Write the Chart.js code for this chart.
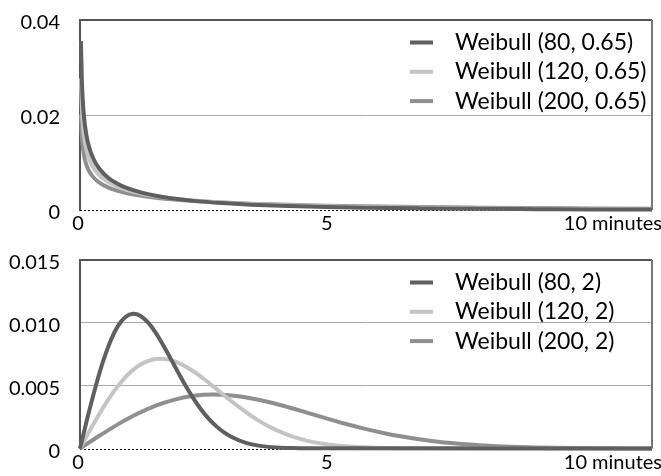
<!DOCTYPE html>
<html><head><meta charset="utf-8">
<script src="https://cdn.jsdelivr.net/npm/chart.js@4"></script>
<style>
html,body{margin:0;padding:0;background:#fff;}
#wrap{position:relative;width:661px;height:476px;overflow:hidden;}
.c{position:absolute;left:0;width:661px;height:238px;}
</style></head><body>
<div id="wrap">
<div class="c" style="top:0"><canvas id="topChart"></canvas></div>
<div class="c" style="top:238px"><canvas id="botChart"></canvas></div>
</div>
<script>
// ---------- data (x in minutes, y = density) ----------
const xTickValues = [0, 5, 10];
const xTickLabels = ['0', '5', '10 minutes'];

const labelsTop = ['Weibull (80, 0.65)', 'Weibull (120, 0.65)', 'Weibull (200, 0.65)'];
const labelsBottom = ['Weibull (80, 2)', 'Weibull (120, 2)', 'Weibull (200, 2)'];

// top panel (shape 0.65), common x
const minutesTop = [0.019, 0.038, 0.076, 0.133, 0.190, 0.286, 0.381, 0.571, 0.762, 0.952, 1.238, 1.524, 1.905, 2.286, 2.857, 3.429, 4.190, 4.952, 5.714, 6.857, 8.000, 9.143, 10.286, 11.5];
const w80_065  = [0.03555, 0.02698, 0.02010, 0.01552, 0.01299, 0.01042, 0.00879, 0.00675, 0.00548, 0.00459, 0.00365, 0.00299, 0.00237, 0.00192, 0.00145, 0.00112, 0.00083, 0.00063, 0.00048, 0.00034, 0.00024, 0.00018, 0.00013, 0.00010];
const w120_065 = [0.02768, 0.02117, 0.01596, 0.01251, 0.01060, 0.00866, 0.00742, 0.00586, 0.00488, 0.00418, 0.00343, 0.00290, 0.00238, 0.00199, 0.00158, 0.00128, 0.00100, 0.00079, 0.00064, 0.00048, 0.00037, 0.00028, 0.00022, 0.00017];
const w200_065 = [0.02011, 0.01549, 0.01181, 0.00938, 0.00804, 0.00668, 0.00582, 0.00472, 0.00402, 0.00352, 0.00298, 0.00258, 0.00219, 0.00190, 0.00157, 0.00133, 0.00109, 0.00091, 0.00077, 0.00061, 0.00050, 0.00041, 0.00034, 0.00028];

// bottom panel (shape 2)
const minutes80_2 = [0, 0.152, 0.305, 0.457, 0.610, 0.762, 0.914, 1.067, 1.219, 1.371, 1.524, 1.676, 1.829, 1.981, 2.133, 2.286, 2.438, 2.590, 2.743, 2.895, 3.048, 3.352, 3.657, 3.962, 4.267, 4.571, 11.5];
const w80_2 = [0, 0.00248, 0.00480, 0.00685, 0.00852, 0.00974, 0.01047, 0.01072, 0.01055, 0.01001, 0.00920, 0.00820, 0.00711, 0.00600, 0.00493, 0.00395, 0.00309, 0.00236, 0.00176, 0.00128, 0.00092, 0.00043, 0.00019, 0.00008, 0.00003, 0.00001, 0];
const minutes120_2 = [0, 0.229, 0.457, 0.686, 0.914, 1.143, 1.371, 1.600, 1.829, 2.057, 2.286, 2.514, 2.743, 2.971, 3.200, 3.429, 3.657, 3.886, 4.114, 4.343, 4.571, 5.029, 5.486, 5.943, 6.400, 6.857, 11.5];
const w120_2 = [0, 0.00165, 0.00320, 0.00457, 0.00568, 0.00649, 0.00698, 0.00715, 0.00703, 0.00667, 0.00613, 0.00547, 0.00474, 0.00400, 0.00329, 0.00264, 0.00206, 0.00158, 0.00118, 0.00086, 0.00061, 0.00029, 0.00013, 0.00005, 0.00002, 0.00001, 0];
const minutes200_2 = [0, 0.381, 0.762, 1.143, 1.524, 1.905, 2.286, 2.667, 3.048, 3.429, 3.810, 4.190, 4.571, 4.952, 5.333, 5.714, 6.095, 6.476, 6.857, 7.238, 7.619, 8.381, 9.143, 9.905, 10.667, 11.429, 11.5];
const w200_2 = [0, 0.00099, 0.00192, 0.00274, 0.00341, 0.00389, 0.00419, 0.00429, 0.00422, 0.00400, 0.00368, 0.00328, 0.00284, 0.00240, 0.00197, 0.00158, 0.00124, 0.00095, 0.00071, 0.00051, 0.00037, 0.00017, 0.00008, 0.00003, 0.00001, 0.000004, 0];

// ---------- styling ----------
const COLORS = ['#5f5f5f', '#c4c4c4', '#8f8f8f'];
const FONT = 'Lato, "DejaVu Sans", sans-serif';
const X_MAX = 11.5;

function pts(xs, ys) { return xs.map((x, i) => ({x: x, y: ys[i]})); }

function ds(label, data, i) {
  return {
    label: label, data: data, borderColor: COLORS[i], backgroundColor: COLORS[i],
    borderWidth: 4, pointRadius: 0, fill: false,
    cubicInterpolationMode: 'monotone', clip: {left: 4, top: 4, right: 0, bottom: 5}
  };
}

const decorPlugin = {
  id: 'decor',
  beforeDatasetsDraw(chart) {
    const {ctx, chartArea: a} = chart;
    ctx.save();
    ctx.strokeStyle = '#000';
    ctx.lineWidth = 1;
    ctx.setLineDash([2, 2]);
    ctx.beginPath();
    ctx.moveTo(a.left, Math.round(a.bottom) + 0.5);
    ctx.lineTo(a.right, Math.round(a.bottom) + 0.5);
    ctx.stroke();
    ctx.setLineDash([]);
    ctx.strokeStyle = '#777';
    ctx.lineWidth = 2;
    ctx.beginPath();
    ctx.moveTo(a.right, a.top);
    ctx.lineTo(a.right, a.bottom);
    ctx.stroke();
    ctx.restore();
  },
  afterDraw(chart) {
    const {ctx, chartArea: a} = chart;
    const xs = chart.scales.x;
    ctx.save();
    ctx.fillStyle = '#000';
    ctx.font = '20px ' + FONT;
    ctx.textBaseline = 'middle';
    xTickValues.forEach((v, i) => {
      const px = xs.getPixelForValue(v) - 2;
      const lab = xTickLabels[i];
      const w = ctx.measureText(String(v)).width;
      ctx.textAlign = 'left';
      ctx.fillText(lab, px - w / 2, a.bottom + 14);
    });
    // legend
    const labels = chart.options.plugins.decor.labels;
    ctx.font = '23px ' + FONT;
    labels.forEach((lab, i) => {
      const y = a.top + 22.5 + i * 29.3;
      ctx.strokeStyle = COLORS[i];
      ctx.lineWidth = 4;
      ctx.beginPath();
      ctx.moveTo(410, y);
      ctx.lineTo(433, y);
      ctx.stroke();
      ctx.fillText(lab, 455, y);
    });
    ctx.restore();
  }
};

function makeChart(id, datasets, yMax, yStep, digits, labels, wantTop, wantBottom) {
  let xh = 238 - wantBottom;
  const isMax = c => Math.abs(c.tick.value - yMax) < 1e-9;
  const isZero = c => Math.abs(c.tick.value) < 1e-12;
  const chart = new Chart(document.getElementById(id), {
    type: 'line',
    data: {datasets: datasets},
    plugins: [decorPlugin],
    options: {
      responsive: true, maintainAspectRatio: false, animation: false, devicePixelRatio: 1,
      layout: {padding: {top: wantTop, right: 9, bottom: 0, left: 0}},
      plugins: {legend: {display: false}, tooltip: {enabled: false}, decor: {labels: labels}},
      scales: {
        x: {
          type: 'linear', min: 0, max: X_MAX,
          ticks: {display: false},
          grid: {display: false},
          border: {display: false},
          afterFit(s) { s.height = xh; }
        },
        y: {
          min: 0, max: yMax,
          ticks: {
            stepSize: yStep, color: '#000', padding: 0, labelOffset: 3,
            font: {family: FONT, size: 20},
            callback: v => (Math.abs(v) < 1e-12 ? '0' : Number(v).toFixed(digits))
          },
          grid: {
            drawTicks: true, tickLength: 20,
            tickColor: 'rgba(0,0,0,0)',
            color: c => (isMax(c) ? '#555' : (isZero(c) ? 'rgba(0,0,0,0)' : '#aaa')),
            lineWidth: c => (isMax(c) ? 2 : 1)
          },
          border: {display: true, color: '#555', width: 2},
          afterFit(s) { s.width = 80; }
        }
      }
    }
  });
  // nudge layout so the plot area lands where the reference has it
  for (let k = 0; k < 4; k++) {
    const a = chart.chartArea;
    const dt = wantTop - a.top, db = wantBottom - a.bottom;
    if (Math.abs(dt) < 0.25 && Math.abs(db) < 0.25) break;
    chart.config.options.layout.padding.top += dt;
    xh -= db;
    chart.update();
  }
  return chart;
}

makeChart('topChart', [
  ds(labelsTop[0], pts(minutesTop, w80_065), 0),
  ds(labelsTop[1], pts(minutesTop, w120_065), 1),
  ds(labelsTop[2], pts(minutesTop, w200_065), 2)
], 0.04, 0.02, 2, labelsTop, 20, 210);

makeChart('botChart', [
  ds(labelsBottom[0], pts(minutes80_2, w80_2), 0),
  ds(labelsBottom[1], pts(minutes120_2, w120_2), 1),
  ds(labelsBottom[2], pts(minutes200_2, w200_2), 2)
], 0.015, 0.005, 3, labelsBottom, 22, 210.5);
</script>
</body></html>
